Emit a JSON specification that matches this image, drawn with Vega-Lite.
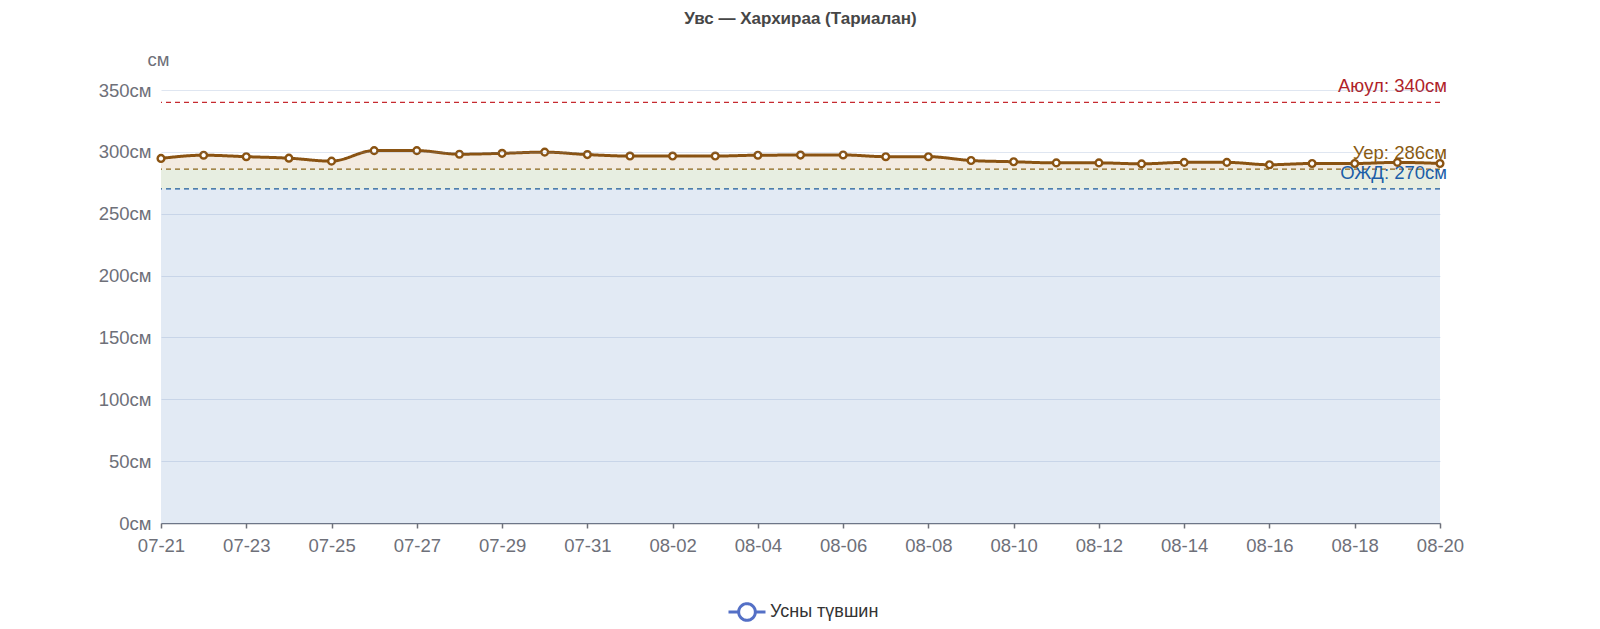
{
  "$schema": "https://vega.github.io/schema/vega-lite/v6.json",
  "width": 1279,
  "height": 433,
  "autosize": {"type": "none"},
  "padding": {"left": 161, "top": 90, "right": 160, "bottom": 106},
  "background": "#ffffff",
  "title": {
    "text": "Увс — Хархираа (Тариалан)",
    "font": "Liberation Sans",
    "fontSize": 17,
    "fontWeight": "bold",
    "color": "#464646",
    "anchor": "middle",
    "frame": "group",
    "offset": 22
  },
  "datasets": {
    "levels": [
      {"date": "2025-07-21", "level": 294.7, "series": "Усны түвшин"},
      {"date": "2025-07-22", "level": 297.3, "series": "Усны түвшин"},
      {"date": "2025-07-23", "level": 296.1, "series": "Усны түвшин"},
      {"date": "2025-07-24", "level": 294.9, "series": "Усны түвшин"},
      {"date": "2025-07-25", "level": 292.5, "series": "Усны түвшин"},
      {"date": "2025-07-26", "level": 301, "series": "Усны түвшин"},
      {"date": "2025-07-27", "level": 301, "series": "Усны түвшин"},
      {"date": "2025-07-28", "level": 298.1, "series": "Усны түвшин"},
      {"date": "2025-07-29", "level": 298.8, "series": "Усны түвшин"},
      {"date": "2025-07-30", "level": 299.8, "series": "Усны түвшин"},
      {"date": "2025-07-31", "level": 297.8, "series": "Усны түвшин"},
      {"date": "2025-08-01", "level": 296.6, "series": "Усны түвшин"},
      {"date": "2025-08-02", "level": 296.6, "series": "Усны түвшин"},
      {"date": "2025-08-03", "level": 296.6, "series": "Усны түвшин"},
      {"date": "2025-08-04", "level": 297.3, "series": "Усны түвшин"},
      {"date": "2025-08-05", "level": 297.4, "series": "Усны түвшин"},
      {"date": "2025-08-06", "level": 297.5, "series": "Усны түвшин"},
      {"date": "2025-08-07", "level": 296.1, "series": "Усны түвшин"},
      {"date": "2025-08-08", "level": 296.1, "series": "Усны түвшин"},
      {"date": "2025-08-09", "level": 293, "series": "Усны түвшин"},
      {"date": "2025-08-10", "level": 292, "series": "Усны түвшин"},
      {"date": "2025-08-11", "level": 291.1, "series": "Усны түвшин"},
      {"date": "2025-08-12", "level": 291.1, "series": "Усны түвшин"},
      {"date": "2025-08-13", "level": 290.3, "series": "Усны түвшин"},
      {"date": "2025-08-14", "level": 291.5, "series": "Усны түвшин"},
      {"date": "2025-08-15", "level": 291.5, "series": "Усны түвшин"},
      {"date": "2025-08-16", "level": 289.6, "series": "Усны түвшин"},
      {"date": "2025-08-17", "level": 290.6, "series": "Усны түвшин"},
      {"date": "2025-08-18", "level": 290.6, "series": "Усны түвшин"},
      {"date": "2025-08-19", "level": 291.5, "series": "Усны түвшин"},
      {"date": "2025-08-20", "level": 290.6, "series": "Усны түвшин"}
    ],
    "bands": [
      {"zone": "ОЖД", "from": 0, "to": 270},
      {"zone": "Уер", "from": 270, "to": 286}
    ],
    "limits": [
      {"kind": "Аюул", "level": 340, "label": "Аюул: 340см", "date": "2025-08-20"},
      {"kind": "Уер", "level": 286, "label": "Уер: 286см", "date": "2025-08-20"},
      {"kind": "ОЖД", "level": 270, "label": "ОЖД: 270см", "date": "2025-08-20"}
    ]
  },
  "encoding": {
    "x": {
      "field": "date",
      "type": "temporal",
      "title": null,
      "scale": {
        "type": "utc",
        "domain": [
          {"year": 2025, "month": 7, "date": 21, "utc": true},
          {"year": 2025, "month": 8, "date": 20, "utc": true}
        ]
      },
      "axis": {
        "title": null,
        "labelExpr": "utcFormat(datum.value, '%m-%d')",
        "values": [
          {"year": 2025, "month": 7, "date": 21, "utc": true},
          {"year": 2025, "month": 7, "date": 23, "utc": true},
          {"year": 2025, "month": 7, "date": 25, "utc": true},
          {"year": 2025, "month": 7, "date": 27, "utc": true},
          {"year": 2025, "month": 7, "date": 29, "utc": true},
          {"year": 2025, "month": 7, "date": 31, "utc": true},
          {"year": 2025, "month": 8, "date": 2, "utc": true},
          {"year": 2025, "month": 8, "date": 4, "utc": true},
          {"year": 2025, "month": 8, "date": 6, "utc": true},
          {"year": 2025, "month": 8, "date": 8, "utc": true},
          {"year": 2025, "month": 8, "date": 10, "utc": true},
          {"year": 2025, "month": 8, "date": 12, "utc": true},
          {"year": 2025, "month": 8, "date": 14, "utc": true},
          {"year": 2025, "month": 8, "date": 16, "utc": true},
          {"year": 2025, "month": 8, "date": 18, "utc": true},
          {"year": 2025, "month": 8, "date": 20, "utc": true}
        ],
        "grid": false,
        "domainColor": "#6e7079",
        "domainWidth": 1.5,
        "tickColor": "#6e7079",
        "tickSize": 5,
        "tickWidth": 1.5,
        "labelFont": "Liberation Sans",
        "labelFontSize": 18.5,
        "labelColor": "#6e7079",
        "labelPadding": 8,
        "labelFlush": false,
        "labelOverlap": false
      }
    }
  },
  "layer": [
    {
      "data": {"name": "bands"},
      "mark": {"type": "rect"},
      "encoding": {
        "x": null,
        "y": {"field": "from", "type": "quantitative", "title": "см"},
        "y2": {"field": "to"},
        "fill": {
          "field": "zone",
          "type": "nominal",
          "scale": {"domain": ["ОЖД", "Уер"], "range": ["#e2eaf4", "#e7eee1"]},
          "legend": null
        }
      }
    },
    {
      "data": {"name": "levels"},
      "mark": {"type": "area", "interpolate": "monotone", "fill": "#f3ebe1"},
      "encoding": {
        "y": {"field": "level", "type": "quantitative", "title": "см"},
        "y2": {"datum": 286}
      }
    },
    {
      "data": {"name": "limits"},
      "mark": {"type": "rule", "strokeDash": [5, 4], "strokeWidth": 1.3},
      "encoding": {
        "x": null,
        "y": {"field": "level", "type": "quantitative", "title": "см"},
        "color": {
          "field": "kind",
          "type": "nominal",
          "scale": {"domain": ["Аюул", "Уер", "ОЖД"], "range": ["#c62a30", "#8a6418", "#1c5b9c"]},
          "legend": null
        }
      }
    },
    {
      "data": {"name": "limits"},
      "mark": {"type": "text", "align": "right", "baseline": "middle", "dx": 7, "dy": -16, "font": "Liberation Sans", "fontSize": 18.5},
      "encoding": {
        "y": {"field": "level", "type": "quantitative", "title": "см"},
        "text": {"field": "label"},
        "color": {
          "field": "kind",
          "type": "nominal",
          "scale": {"domain": ["Аюул", "Уер", "ОЖД"], "range": ["#b02228", "#8a5a10", "#1c5ea8"]},
          "legend": null
        }
      }
    },
    {
      "data": {"name": "levels"},
      "mark": {"type": "line", "interpolate": "monotone", "strokeWidth": 3, "stroke": "#8a5312"},
      "encoding": {
        "y": {"field": "level", "type": "quantitative", "title": "см"},
        "strokeDash": {
          "field": "series",
          "type": "nominal",
          "scale": {"range": [[1, 0]]},
          "legend": {
            "title": null,
            "orient": "none",
            "legendX": 566,
            "legendY": 502,
            "symbolType": "M-1,0H-0.45M0.45,0H1M0.45,0A0.45,0.45 0 1,1 -0.45,0A0.45,0.45 0 1,1 0.45,0",
            "symbolSize": 1369,
            "symbolStrokeWidth": 3,
            "symbolStrokeColor": "#5470c6",
            "symbolFillColor": "#ffffff",
            "labelFont": "Liberation Sans",
            "labelFontSize": 18,
            "labelColor": "#333333",
            "labelOffset": 3
          }
        }
      }
    },
    {
      "data": {"name": "levels"},
      "mark": {"type": "point", "shape": "circle", "filled": true, "fill": "#ffffff", "stroke": "#8a5312", "strokeWidth": 2.4, "size": 45, "opacity": 1},
      "encoding": {
        "y": {"field": "level", "type": "quantitative", "title": "см"}
      }
    }
  ],
  "resolve": {"scale": {"color": "independent", "fill": "independent"}},
  "config": {
    "view": {"stroke": null},
    "axisY": {
      "titleAngle": 0,
      "titleX": -3,
      "titleY": -31,
      "titleAlign": "center",
      "titleBaseline": "middle",
      "titleFont": "Liberation Sans",
      "titleFontSize": 18.5,
      "titleFontWeight": "normal",
      "titleColor": "#6e7079"
    },
    "axisQuantitative": {
      "values": [0, 50, 100, 150, 200, 250, 300, 350],
      "labelExpr": "datum.value + 'см'",
      "domain": false,
      "ticks": false,
      "grid": true,
      "gridColor": "#6f8fbf",
      "gridOpacity": 0.22,
      "gridWidth": 1.2,
      "labelFont": "Liberation Sans",
      "labelFontSize": 18.5,
      "labelColor": "#6e7079",
      "labelPadding": 10,
      "zindex": 1
    },
    "scale": {"zero": true},
    "legend": {"padding": 0}
  }
}
